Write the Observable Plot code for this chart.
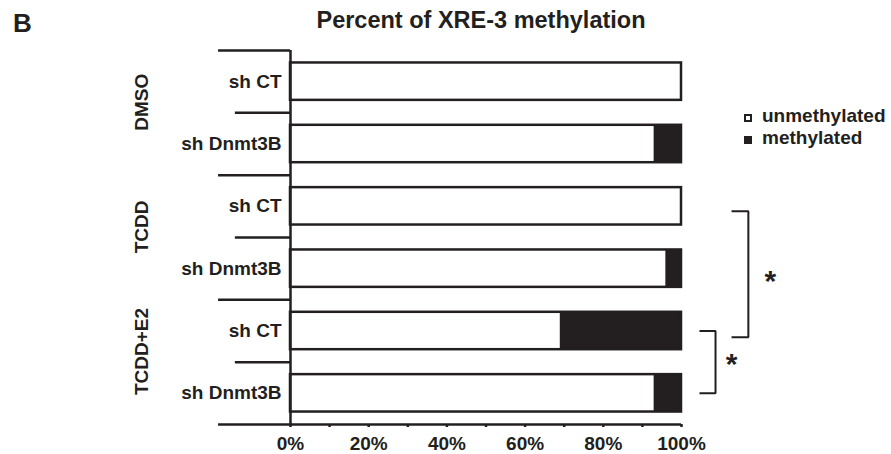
<!DOCTYPE html>
<html>
<head>
<meta charset="utf-8">
<script src="https://cdn.jsdelivr.net/npm/d3@7"></script>
<script src="https://cdn.jsdelivr.net/npm/@observablehq/plot@0.6"></script>
<style>
  html, body { margin: 0; padding: 0; background: #ffffff; }
  #wrap { position: relative; width: 891px; height: 454px; overflow: hidden; font-family: "Liberation Sans", Arial, sans-serif; font-weight: bold; color: #231f20; }
  #chart { position: absolute; left: 0; top: 0; }
  #panel { position: absolute; left: 13px; top: 10px; font-size: 26px; line-height: 26px; white-space: nowrap; }
  #title { position: absolute; left: 481px; top: 9px; transform: translateX(-50%); font-size: 23.5px; line-height: 23px; white-space: nowrap; }
  .lg-text { position: absolute; left: 762px; font-size: 19px; line-height: 21.5px; white-space: nowrap; }
  .lg-box { position: absolute; left: 744px; width: 8px; height: 8px; box-sizing: border-box; }
  #chart svg [aria-label^="x-axis"] line, #chart svg [aria-label^="x-axis"] path { stroke-width: 2.5px; }
</style>
</head>
<body>
<div id="wrap">
  <div id="chart"></div>
  <div id="panel">B</div>
  <div id="title">Percent of XRE-3 methylation</div>
  <div id="legend"></div>
</div>
<script>
// ---- data ----
const groups = ["DMSO", "TCDD", "TCDD+E2"];
const rowGroup = ["DMSO", "DMSO", "TCDD", "TCDD", "TCDD+E2", "TCDD+E2"];
const rowShRNA = ["sh CT", "sh Dnmt3B", "sh CT", "sh Dnmt3B", "sh CT", "sh Dnmt3B"];
const unmethylated = [100, 93, 100, 96, 69, 93];
const methylated = [0, 7, 0, 4, 31, 7];
const xTickValues = [0, 10, 20, 30, 40, 50, 60, 70, 80, 90, 100];
const xTickLabels = ["0%", "", "20%", "", "40%", "", "60%", "", "80%", "", "100%"];
const seriesNames = ["unmethylated", "methylated"];
const comparisonFrom = [2, 4];
const comparisonTo = [4, 5];
const comparisonLabel = ["*", "*"];

const ink = "#231f20";
const rows = rowShRNA.map((s, i) => ({i, group: rowGroup[i], sh: s, unmeth: unmethylated[i], meth: methylated[i]}));

// boundaries between rows (major = between treatment groups)
const boundaries = d3.range(rows.length + 1).map(p => {
  const major = p === 0 || p === rows.length || rowGroup[p] !== rowGroup[p - 1];
  return {p, x1: major ? -18.4 : -14.1, x2: p === rows.length ? 100 : 0};
});

// group labels (placed slightly above the group's middle, as in the reference)
const groupLabels = groups.map(g => {
  const idx = rows.filter(r => r.group === g).map(r => r.i);
  return {g, y: (d3.min(idx) + d3.max(idx) + 1) / 2 - 0.17};
});

// significance brackets
const bracketPts = [];
const stars = [];
comparisonFrom.forEach((f, k) => {
  const t = comparisonTo[k];
  const big = (t - f) > 1;
  const xb = big ? 117.1 : 108.7;
  const xa = big ? 112.8 : 104.6;
  const y1 = f + 0.5 + (big ? 0.08 : 0), y2 = t + 0.5 + (big ? 0.1 : 0);
  bracketPts.push({k, x: xa, y: y1}, {k, x: xb, y: y1}, {k, x: xb, y: y2}, {k, x: xa, y: y2});
  stars.push({x: xb + (big ? 5.6 : 4.1), y: (y1 + y2) / 2 - (big ? 0.02 : 0.1), label: comparisonLabel[k]});
});

const chart = Plot.plot({
  width: 891,
  height: 454,
  marginLeft: 290,
  marginRight: 210,
  marginTop: 50,
  marginBottom: 30,
  style: {fontFamily: "'Liberation Sans', Arial, sans-serif", fontSize: "19px", fontWeight: "bold", color: ink, background: "transparent", overflow: "visible"},
  x: {domain: [0, 100], ticks: xTickValues, tickFormat: d => xTickLabels[xTickValues.indexOf(d)], tickSize: 3, tickPadding: 9, label: null},
  y: {domain: [0, rows.length], reverse: true, ticks: rows.map(r => r.i + 0.5), tickFormat: d => rowShRNA[Math.floor(d)], tickSize: 0, tickPadding: 9, label: null},
  marks: [
    Plot.rect(rows, {x1: d => 0, x2: d => d.unmeth, y1: d => d.i + 0.2, y2: d => d.i + 0.8, fill: "white"}),
    Plot.rect(rows, {x1: d => d.unmeth, x2: d => d.unmeth + d.meth, y1: d => d.i + 0.2, y2: d => d.i + 0.8, fill: ink}),
    Plot.rect(rows, {x1: d => 0, x2: d => 100, y1: d => d.i + 0.2, y2: d => d.i + 0.8, fill: "none", stroke: ink, strokeWidth: 2.5}),
    Plot.ruleY(boundaries, {y: d => d.p, x1: d => d.x1, x2: d => d.x2, stroke: ink, strokeWidth: 2.5}),
    Plot.ruleX([0], {x: d => d, y1: d => 0, y2: d => rows.length, stroke: ink, strokeWidth: 2.5}),
    Plot.text(groupLabels, {x: d => -37.9, y: "y", text: "g", rotate: -90, fontSize: 19, fontWeight: "bold", fill: ink}),
    Plot.line(bracketPts, {x: "x", y: "y", z: "k", stroke: ink, strokeWidth: 2, strokeLinejoin: "miter", strokeLinecap: "butt"}),
    Plot.text(stars, {x: "x", y: "y", text: "label", fontSize: 30, fontWeight: "bold", dy: 8, fill: ink})
  ]
});
document.getElementById("chart").appendChild(chart);

// legend
const legend = document.getElementById("legend");
seriesNames.forEach((name, k) => {
  const box = document.createElement("div");
  box.className = "lg-box";
  box.style.top = (114 + k * 21.5) + "px";
  if (k === 0) { box.style.border = "2px solid " + ink; box.style.background = "white"; }
  else { box.style.background = ink; }
  legend.appendChild(box);
  const t = document.createElement("div");
  t.className = "lg-text";
  t.style.top = (105 + k * 21.5) + "px";
  t.textContent = name;
  legend.appendChild(t);
});
</script>
</body>
</html>
